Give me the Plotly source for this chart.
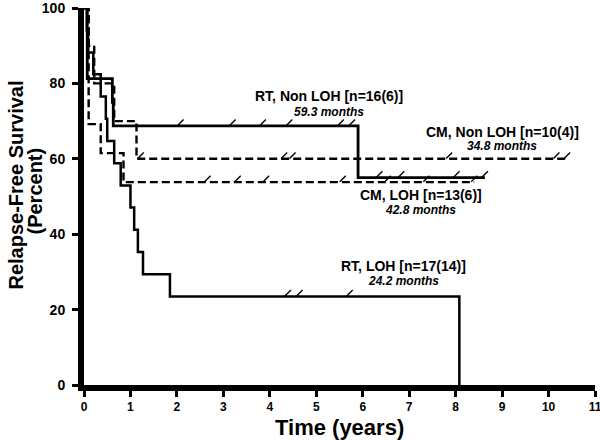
import plotly.graph_objects as go

# ---- data (years, percent) ----
rt_non_t = [0, 0.07, 0.61, 0.63, 5.9, 8.63]
rt_non_s = [100, 81.25, 75, 68.75, 55, 55]
rt_non_c = [2.08, 3.2, 3.85, 4.42, 5.53, 5.77, 6.36, 6.83, 8.02, 8.63]

rt_loh_t = [0, 0.06, 0.09, 0.2, 0.36, 0.47, 0.5, 0.65, 0.79, 1.0, 1.08, 1.16, 1.27, 1.85, 8.08]
rt_loh_s = [100, 94.1, 88.2, 82.4, 76.5, 70.6, 64.7, 58.8, 52.9, 47.1, 41.2, 35.3, 29.4, 23.5, 0]
rt_loh_c = [4.39, 4.64, 5.72]

cm_non_t = [0, 0.1, 0.22, 0.65, 1.13, 10.4]
cm_non_s = [100, 90, 80, 70, 60, 60]
cm_non_c = [1.22, 4.31, 4.49, 7.86, 10.17, 10.4]

cm_loh_t = [0, 0.1, 0.36, 0.85, 8.4]
cm_loh_s = [100, 69.2, 61.5, 53.8, 53.8]
cm_loh_c = [2.66, 3.31, 3.92, 5.57, 6.54, 7.37, 8.4]

labels = ["RT, Non LOH [n=16(6)]", "CM, Non LOH [n=10(4)]", "CM, LOH [n=13(6)]", "RT, LOH [n=17(14)]"]
medians = ["59.3 months", "34.8 months", "42.8 months", "24.2 months"]
label_x = [5.28, 9.0, 7.25, 6.88]
label_y = [76.6, 67.1, 50.4, 31.5]
median_y = [72.5, 63.3, 46.5, 27.5]

x_ticks = list(range(0, 12))
y_ticks = [0, 20, 40, 60, 80, 100]

FONT = "Liberation Sans"


def surv_at(ts, ss, t):
    v = ss[0]
    for ti, si in zip(ts, ss):
        if ti <= t:
            v = si
    return v


fig = go.Figure()
series = [
    (rt_non_t, rt_non_s, rt_non_c, "solid", 2.8),
    (rt_loh_t, rt_loh_s, rt_loh_c, "solid", 2.5),
    (cm_non_t, cm_non_s, cm_non_c, "8px,4px", 2.4),
    (cm_loh_t, cm_loh_s, cm_loh_c, "8px,4px", 2.4),
]
for ts, ss, cs, dash, w in series:
    fig.add_trace(go.Scatter(x=ts, y=ss, mode="lines", line=dict(shape="hv", color="black", width=w, dash=dash),
                             showlegend=False, hoverinfo="skip"))
    fig.add_trace(go.Scatter(x=cs, y=[surv_at(ts, ss, c) + 0.9 for c in cs], mode="markers",
                             marker=dict(symbol="line-ne", size=6, color="black",
                                         line=dict(color="black", width=1.4)),
                             showlegend=False, hoverinfo="skip"))

for lx, ly, my, lab, med in zip(label_x, label_y, median_y, labels, medians):
    fig.add_annotation(x=lx, y=ly, text="<b>%s</b>" % lab, showarrow=False,
                       font=dict(family=FONT, size=14, color="black"))
    fig.add_annotation(x=lx, y=my, text="<b><i>%s</i></b>" % med, showarrow=False,
                       font=dict(family=FONT, size=12, color="black"))

# axis titles as annotations (pixel-placed relative to the plot area)
fig.add_annotation(xref="paper", yref="paper", x=0, y=0.5, xshift=-69, yshift=11,
                   xanchor="center", yanchor="middle", text="<b>Relapse-Free Survival</b>",
                   textangle=-90, showarrow=False, font=dict(family=FONT, size=20, color="black"))
fig.add_annotation(xref="paper", yref="paper", x=0, y=0.5, xshift=-50, yshift=5,
                   xanchor="center", yanchor="middle", text="<b>(Percent)</b>",
                   textangle=-90, showarrow=False, font=dict(family=FONT, size=20, color="black"))
fig.add_annotation(xref="paper", yref="paper", x=0.5, y=0, yshift=-42,
                   xanchor="center", yanchor="middle", text="<b>Time (years)</b>",
                   showarrow=False, font=dict(family=FONT, size=22, color="black"))

fig.update_layout(
    width=600, height=440,
    margin=dict(l=84, r=5, t=8, b=55),
    plot_bgcolor="white", paper_bgcolor="white",
    xaxis=dict(range=[0, 11], tickvals=x_ticks, ticks="outside", ticklen=6, tickwidth=3,
               tickcolor="black", showline=True, linewidth=6, linecolor="black", showgrid=False,
               zeroline=False, automargin=False, ticklabeloverflow="allow",
               tickfont=dict(family=FONT, size=12, color="black", weight="bold")),
    yaxis=dict(range=[0, 100], tickvals=y_ticks, ticks="outside", ticklen=6, tickwidth=3,
               tickcolor="black", showline=True, linewidth=6, linecolor="black", showgrid=False,
               zeroline=False, automargin=False, ticklabelstandoff=4, ticklabeloverflow="allow",
               tickfont=dict(family=FONT, size=14, color="black", weight="bold")),
)

fig.write_html("out.html", config={"displayModeBar": False},
               post_script="document.body.style.margin='0';")
